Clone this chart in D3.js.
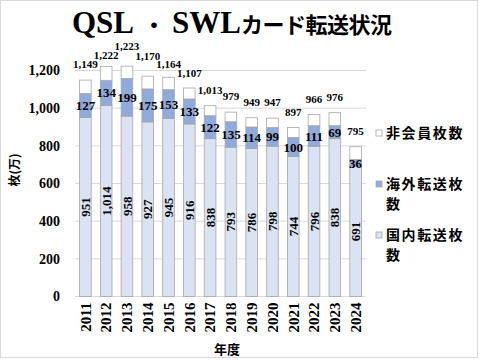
<!DOCTYPE html>
<html><head><meta charset="utf-8">
<script src="https://cdn.jsdelivr.net/npm/d3@7"></script>
<style>
html,body{margin:0;padding:0;background:#fff;}
svg{display:block;}
</style></head>
<body>
<script>
const years = ["2011","2012","2013","2014","2015","2016","2017","2018","2019","2020","2021","2022","2023","2024"];
const domestic = [951,1014,958,927,945,916,838,793,786,798,744,796,838,691];
const overseas = [127,134,199,175,153,133,122,135,114,99,100,111,69,36];
const totals = [1149,1222,1223,1170,1164,1107,1013,979,949,947,897,966,976,795];
const nonMember = totals.map((t,i)=>t-domestic[i]-overseas[i]);
const yTicks = [0,200,400,600,800,1000,1200];
const seriesNames = ["非会員枚数","海外転送枚数","国内転送枚数"];
const seriesColors = ["#ffffff","#8faadc","#dae3f3"];

const W=480,H=360;
const svg=d3.select("body").append("svg").attr("width",W).attr("height",H);
svg.append("rect").attr("x",0.5).attr("y",0.5).attr("width",477).attr("height",357)
  .attr("fill","#fff").attr("stroke","#d9d9d9");

const serif="'Liberation Serif','Times New Roman',serif";
const cjk="'Noto Sans CJK JP','Noto Sans CJK SC',sans-serif";

// title
const title=svg.append("text").attr("x",72).attr("y",33).attr("font-weight","bold").attr("fill","#000");
title.append("tspan").attr("font-family",serif).attr("font-size",31).text("QSL");
title.append("tspan").attr("font-family",cjk).attr("font-size",22).attr("dx",9).text("・");
title.append("tspan").attr("font-family",serif).attr("font-size",31).attr("dx",7).text("SWL");
title.append("tspan").attr("font-family",cjk).attr("font-size",22).attr("letter-spacing",-0.5).text("カード転送状況");

const x=d3.scaleBand().domain(years).range([75,366]).paddingInner(0.44).paddingOuter(0.22);
const y=d3.scaleLinear().domain([0,1200]).range([296.5,70.5]);

// gridlines
svg.append("g").selectAll("line").data(yTicks).join("line")
  .attr("x1",75).attr("x2",366).attr("y1",d=>y(d)).attr("y2",d=>y(d))
  .attr("stroke","#d9d9d9").attr("stroke-width",1);

// y axis labels
const yAxis=d3.axisLeft(y).tickValues(yTicks).tickFormat(d3.format(",")).tickSize(0).tickPadding(15);
const ya=svg.append("g").attr("transform","translate(75,0)").call(yAxis);
ya.select(".domain").remove();
ya.selectAll("text").attr("font-family",serif).attr("font-weight","bold").attr("font-size",14).attr("fill","#000");

// x axis labels
const xAxis=d3.axisBottom(x).tickSize(0).tickPadding(0);
const xa=svg.append("g").attr("transform","translate(0,296.5)").call(xAxis);
xa.select(".domain").remove();
xa.selectAll("text").attr("font-family",serif).attr("font-weight","bold").attr("font-size",15).attr("fill","#000")
  .attr("text-anchor","end").attr("transform","rotate(-90)").attr("x",-6).attr("y",0).attr("dy","0.35em");

// stacked bars
const stackData=years.map((yr,i)=>({year:yr,dom:domestic[i],ovs:overseas[i],non:nonMember[i]}));
const stack=d3.stack().keys(["dom","ovs","non"])(stackData);
const keyColors={dom:seriesColors[2],ovs:seriesColors[1],non:seriesColors[0]};
const bars=svg.append("g");
stack.forEach(layer=>{
  bars.append("g").selectAll("rect").data(layer).join("rect")
    .attr("x",d=>x(d.data.year)).attr("width",x.bandwidth())
    .attr("y",d=>y(d[1])).attr("height",d=>y(d[0])-y(d[1]))
    .attr("fill",keyColors[layer.key]).attr("stroke","#a6a6a6").attr("stroke-width",0.8);
});

// domestic labels (rotated)
svg.append("g").selectAll("text").data(stack[0]).join("text")
  .attr("transform",d=>`translate(${x(d.data.year)+x.bandwidth()/2},${(y(d[0])+y(d[1]))/2}) rotate(-90)`)
  .attr("text-anchor","middle").attr("dy","0.35em")
  .attr("font-family",serif).attr("font-weight","bold").attr("font-size",13).attr("fill","#000")
  .text(d=>d3.format(",")(d.data.dom));

// overseas labels
svg.append("g").selectAll("text").data(stack[1]).join("text")
  .attr("x",d=>x(d.data.year)+x.bandwidth()/2).attr("y",d=>(y(d[0])+y(d[1]))/2)
  .attr("text-anchor","middle").attr("dy","0.35em")
  .attr("font-family",serif).attr("font-weight","bold").attr("font-size",13).attr("fill","#000")
  .text(d=>d.data.ovs);

// total labels with simple collision spreading
const fmt=d3.format(",");
const tl=totals.map((t,i)=>({t,cx:x(years[i])+x.bandwidth()/2,by:y(t)-12,w:fmt(t).length*5.2}));
for(let i=1;i<tl.length;i++){
  const a=tl[i-1],b=tl[i];
  const ov=(a.w/2+b.w/2)-(b.cx-a.cx);
  if(ov>2 && Math.abs(a.by-b.by)<9){
    const m=(a.by+b.by)/2;
    if(a.t>b.t){a.by=m-4.5;b.by=m+4.5;} else {a.by=m+4.5;b.by=m-4.5;}
  }
}
svg.append("g").selectAll("text").data(tl).join("text")
  .attr("x",d=>d.cx).attr("y",d=>d.by).attr("text-anchor","middle")
  .attr("font-family",serif).attr("font-weight","bold").attr("font-size",11).attr("fill","#000")
  .text(d=>fmt(d.t));

// axis titles
svg.append("text").attr("transform","translate(15,170) rotate(-90)").attr("text-anchor","middle").attr("dy","0.35em")
  .attr("font-family",cjk).attr("font-weight","bold").attr("font-size",12).text("枚(万)");
svg.append("text").attr("x",227).attr("y",349).attr("text-anchor","middle").attr("dy","0.35em")
  .attr("font-family",cjk).attr("font-weight","bold").attr("font-size",13).text("年度");

// legend
const legY=[133,184,235];
const leg=svg.append("g");
seriesNames.forEach((name,i)=>{
  leg.append("rect").attr("x",376).attr("y",legY[i]-3).attr("width",6).attr("height",6)
    .attr("fill",seriesColors[i]).attr("stroke","#a6a6a6").attr("stroke-width",0.8);
  const lines=[];
  for(let k=0;k<name.length;k+=5) lines.push(name.slice(k,k+5));
  const t=leg.append("text").attr("font-family",cjk).attr("font-weight","bold").attr("font-size",14)
    .attr("letter-spacing",1.6).attr("fill","#000");
  lines.forEach((ln,j)=>{
    t.append("tspan").attr("x",386).attr("y",legY[i]+j*20.5).attr("dy","0.35em").text(ln);
  });
});
</script>
</body></html>
